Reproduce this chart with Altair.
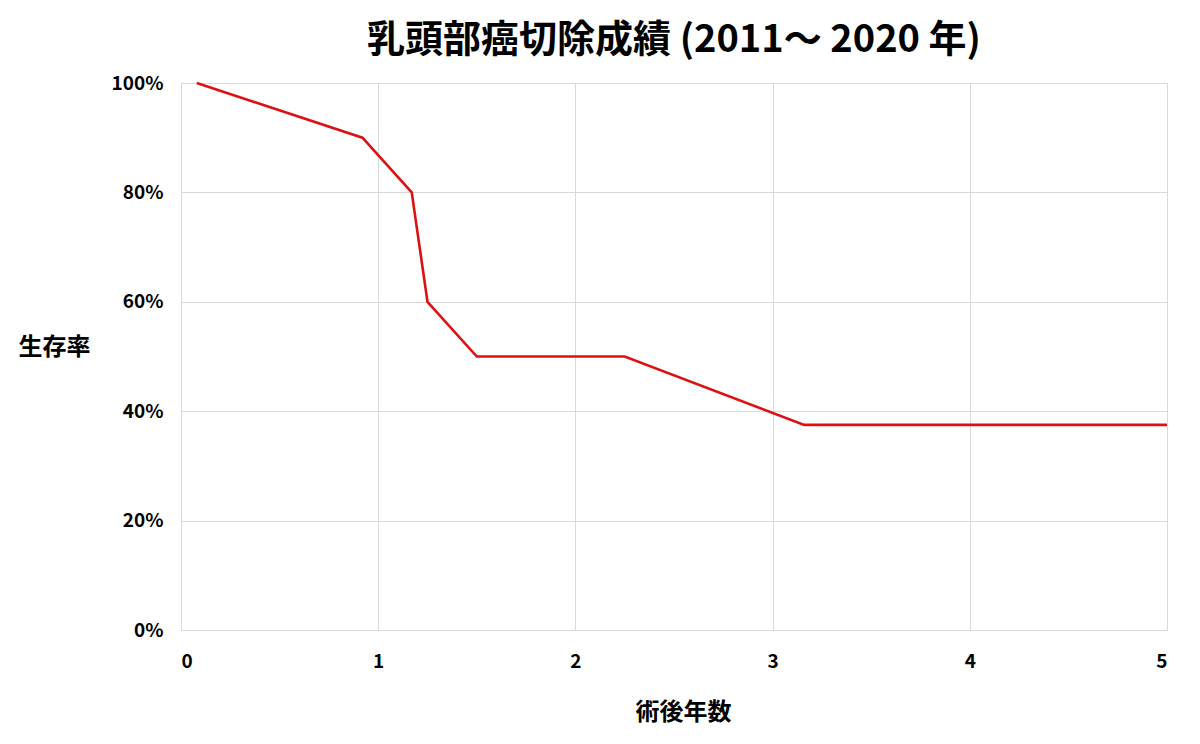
import altair as alt
import pandas as pd

years = [0.08, 0.92, 1.17, 1.25, 1.5, 2.25, 3.16, 5.0]
survival = [1.0, 0.9, 0.8, 0.6, 0.5, 0.5, 0.375, 0.375]
x_ticks = [0, 1, 2, 3, 4, 5]
y_ticks = [0, 0.2, 0.4, 0.6, 0.8, 1.0]

df = pd.DataFrame({"year": years, "rate": survival})

FONT = "Noto Sans CJK JP"

chart = (
    alt.Chart(df)
    .mark_line(color="#dd1111", strokeWidth=2.6)
    .encode(
        x=alt.X(
            "year:Q",
            scale=alt.Scale(domain=[0, 5], nice=False),
            axis=alt.Axis(
                values=x_ticks,
                format="d",
                title="術後年数",
                titleX=502,
                titleY=82,
                titleAlign="center",
                titleBaseline="middle",
                titleFontSize=24,
                titleFontWeight="bold",
                titleFont=FONT,
                titleColor="#000000",
                labelFont=FONT,
                labelFontSize=19,
                labelFontWeight="bold",
                labelColor="#000000",
                labelPadding=22,
                labelBaseline="top",
                ticks=False,
                domainColor="#d9d9d9",
                gridColor="#d9d9d9",
            ),
        ),
        y=alt.Y(
            "rate:Q",
            scale=alt.Scale(domain=[0, 1], nice=False),
            axis=alt.Axis(
                values=y_ticks,
                format=".0%",
                title="生存率",
                titleAngle=0,
                titleX=-127,
                titleY=264,
                titleAlign="center",
                titleBaseline="middle",
                titleFontSize=24,
                titleFontWeight="bold",
                titleFont=FONT,
                titleColor="#000000",
                labelFont=FONT,
                labelFontSize=19,
                labelFontWeight="bold",
                labelColor="#000000",
                labelPadding=18,
                ticks=False,
                domainColor="#d9d9d9",
                gridColor="#d9d9d9",
            ),
        ),
    )
    .properties(
        width=986,
        height=547,
        title=alt.TitleParams(
            "乳頭部癌切除成績 (2011～ 2020 年)",
            font=FONT,
            fontSize=38,
            fontWeight="bold",
            color="#000000",
            anchor="middle",
            offset=14,
        ),
        autosize=alt.AutoSizeParams(type="none"),
        padding={"left": 173, "top": 75, "right": 25, "bottom": 106},
    )
    .configure_view(stroke=None)
    .configure(background="white")
)

chart.save("out.html", embed_options={"renderer": "svg", "actions": False})
